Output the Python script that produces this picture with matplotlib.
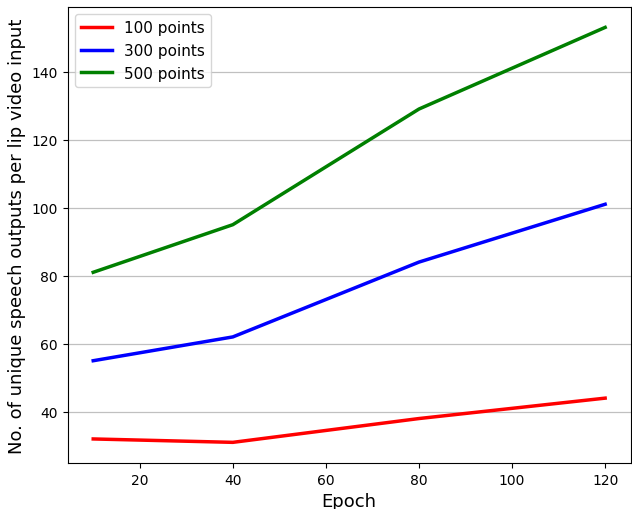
import matplotlib
matplotlib.use("Agg")
import matplotlib.pyplot as plt

epochs = [10, 40, 80, 120]
pts_100 = [32, 31, 38, 44]
pts_300 = [55, 62, 84, 101]
pts_500 = [81, 95, 129, 153]

fig, ax = plt.subplots(figsize=(6.32, 5.1), dpi=100)
ax.plot(epochs, pts_100, color='red', linewidth=2.5, label='100 points')
ax.plot(epochs, pts_300, color='blue', linewidth=2.5, label='300 points')
ax.plot(epochs, pts_500, color='green', linewidth=2.5, label='500 points')

ax.grid(axis='y', color='#c0c0c0', linewidth=0.9)
ax.set_axisbelow(True)
ax.set_xlabel('Epoch', fontsize=13)
ax.set_ylabel('No. of unique speech outputs per lip video input', fontsize=13)
ax.legend(fontsize=11, loc='upper left')

plt.subplots_adjust(left=0.107, right=0.998, top=0.985, bottom=0.09)
plt.savefig('out.png')
